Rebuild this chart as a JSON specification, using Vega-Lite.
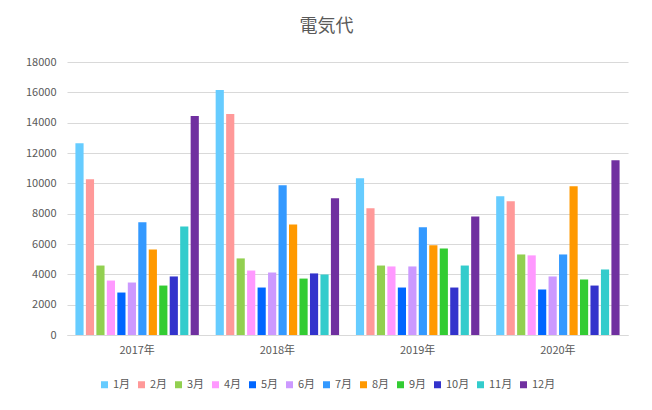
{
  "$schema": "https://vega.github.io/schema/vega-lite/v6.json",
  "width": 561,
  "height": 273,
  "autosize": {"type": "none"},
  "padding": {"left": 67, "top": 62, "right": 24, "bottom": 75},
  "background": "white",
  "title": {
    "text": "電気代",
    "font": "Noto Sans CJK JP",
    "fontSize": 18,
    "fontWeight": "normal",
    "color": "#595959",
    "anchor": "middle",
    "dx": -21,
    "offset": 20
  },
  "data": {
    "values": [
      {"year": "2017年", "month": "1月", "cost": 12650},
      {"year": "2017年", "month": "2月", "cost": 10270},
      {"year": "2017年", "month": "3月", "cost": 4580},
      {"year": "2017年", "month": "4月", "cost": 3590},
      {"year": "2017年", "month": "5月", "cost": 2800},
      {"year": "2017年", "month": "6月", "cost": 3460},
      {"year": "2017年", "month": "7月", "cost": 7430},
      {"year": "2017年", "month": "8月", "cost": 5640},
      {"year": "2017年", "month": "9月", "cost": 3260},
      {"year": "2017年", "month": "10月", "cost": 3860},
      {"year": "2017年", "month": "11月", "cost": 7160},
      {"year": "2017年", "month": "12月", "cost": 14440},
      {"year": "2018年", "month": "1月", "cost": 16150},
      {"year": "2018年", "month": "2月", "cost": 14570},
      {"year": "2018年", "month": "3月", "cost": 5050},
      {"year": "2018年", "month": "4月", "cost": 4250},
      {"year": "2018年", "month": "5月", "cost": 3130},
      {"year": "2018年", "month": "6月", "cost": 4120},
      {"year": "2018年", "month": "7月", "cost": 9870},
      {"year": "2018年", "month": "8月", "cost": 7290},
      {"year": "2018年", "month": "9月", "cost": 3720},
      {"year": "2018年", "month": "10月", "cost": 4060},
      {"year": "2018年", "month": "11月", "cost": 3990},
      {"year": "2018年", "month": "12月", "cost": 9010},
      {"year": "2019年", "month": "1月", "cost": 10340},
      {"year": "2019年", "month": "2月", "cost": 8350},
      {"year": "2019年", "month": "3月", "cost": 4580},
      {"year": "2019年", "month": "4月", "cost": 4520},
      {"year": "2019年", "month": "5月", "cost": 3130},
      {"year": "2019年", "month": "6月", "cost": 4520},
      {"year": "2019年", "month": "7月", "cost": 7100},
      {"year": "2019年", "month": "8月", "cost": 5910},
      {"year": "2019年", "month": "9月", "cost": 5710},
      {"year": "2019年", "month": "10月", "cost": 3130},
      {"year": "2019年", "month": "11月", "cost": 4580},
      {"year": "2019年", "month": "12月", "cost": 7820},
      {"year": "2020年", "month": "1月", "cost": 9150},
      {"year": "2020年", "month": "2月", "cost": 8820},
      {"year": "2020年", "month": "3月", "cost": 5310},
      {"year": "2020年", "month": "4月", "cost": 5250},
      {"year": "2020年", "month": "5月", "cost": 3000},
      {"year": "2020年", "month": "6月", "cost": 3860},
      {"year": "2020年", "month": "7月", "cost": 5310},
      {"year": "2020年", "month": "8月", "cost": 9810},
      {"year": "2020年", "month": "9月", "cost": 3660},
      {"year": "2020年", "month": "10月", "cost": 3260},
      {"year": "2020年", "month": "11月", "cost": 4320},
      {"year": "2020年", "month": "12月", "cost": 11530}
    ]
  },
  "mark": {"type": "bar"},
  "encoding": {
    "x": {
      "field": "year",
      "type": "nominal",
      "title": null,
      "scale": {"paddingInner": 0.12, "paddingOuter": 0.06},
      "axis": {
        "labelAngle": 0,
        "ticks": false,
        "domainColor": "#d9d9d9",
        "labelPadding": 9,
        "labelFontSize": 11,
        "labelColor": "#595959",
        "labelFont": "Noto Sans CJK JP"
      }
    },
    "xOffset": {
      "field": "month",
      "type": "nominal",
      "sort": ["1月","2月","3月","4月","5月","6月","7月","8月","9月","10月","11月","12月"],
      "scale": {"paddingInner": 0.22}
    },
    "y": {
      "field": "cost",
      "type": "quantitative",
      "title": null,
      "scale": {"domain": [0, 18000], "nice": false},
      "axis": {
        "values": [0, 2000, 4000, 6000, 8000, 10000, 12000, 14000, 16000, 18000],
        "format": "d",
        "domain": false,
        "ticks": false,
        "gridColor": "#d9d9d9",
        "labelPadding": 11,
        "labelFontSize": 11,
        "labelColor": "#595959",
        "labelFont": "Noto Sans CJK JP"
      }
    },
    "color": {
      "field": "month",
      "type": "nominal",
      "sort": ["1月","2月","3月","4月","5月","6月","7月","8月","9月","10月","11月","12月"],
      "title": null,
      "scale": {
        "domain": ["1月","2月","3月","4月","5月","6月","7月","8月","9月","10月","11月","12月"],
        "range": ["#66CCFF","#FF9999","#92D050","#FF99FF","#0066FF","#CC99FF","#3399FF","#FF9900","#33CC33","#3333CC","#33CCCC","#7030A0"]
      },
      "legend": {
        "orient": "none",
        "legendX": 32,
        "legendY": 317,
        "direction": "horizontal",
        "columns": 12,
        "symbolType": "square",
        "symbolSize": 49,
        "symbolStrokeWidth": 0,
        "labelFontSize": 11,
        "labelColor": "#595959",
        "labelFont": "Noto Sans CJK JP",
        "labelOffset": 3,
        "columnPadding": 5
      }
    }
  },
  "config": {
    "view": {"stroke": null}
  }
}
